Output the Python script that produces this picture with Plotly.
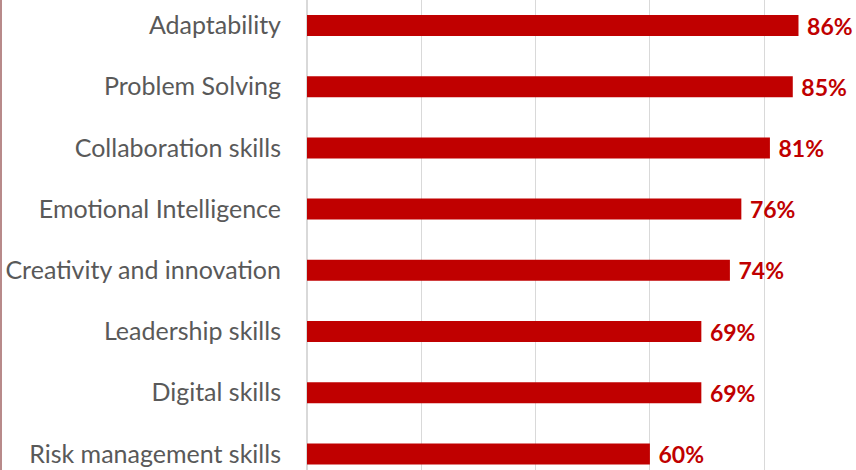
import plotly.graph_objects as go

categories = ["Adaptability", "Problem Solving", "Collaboration skills", "Emotional Intelligence",
              "Creativity and innovation", "Leadership skills", "Digital skills", "Risk management skills"]
values = [86, 85, 81, 76, 74, 69, 69, 60]
labels = [f"{v}%" for v in values]

W, H = 856, 470
L = 307
plot_w = W - L
px_per_unit = 114.3 / 20
x_max = plot_w / px_per_unit

band = 61.2
first_center = 25.5
y_top = -first_center / band
y_bot = (H - first_center) / band

fig = go.Figure(go.Bar(
    x=values, y=categories, orientation="h",
    marker=dict(color="#C00000", line=dict(width=0)),
    width=21 / band,
    text=[" " + t for t in labels], textposition="outside", cliponaxis=False,
    constraintext="none",
    textfont=dict(family="Lato", size=23, color="#C00000", weight="bold"),
    hoverinfo="skip",
))

fig.update_layout(
    width=W, height=H,
    margin=dict(l=L, r=0, t=0, b=0, autoexpand=False),
    paper_bgcolor="white", plot_bgcolor="white",
    showlegend=False,
    font=dict(family="Lato"),
    xaxis=dict(range=[0, x_max], dtick=20, showgrid=True, gridcolor="#D9D9D9", gridwidth=1,
               showticklabels=False, zeroline=True, zerolinecolor="#D9D9D9", zerolinewidth=2,
               showline=False, fixedrange=True),
    yaxis=dict(type="category", categoryorder="array", categoryarray=categories,
               range=[y_bot, y_top], showgrid=False, ticks="", ticklabelstandoff=25,
               tickfont=dict(family="Lato", size=25, color="#595959"), showline=False,
               fixedrange=True),
    shapes=[dict(type="line", xref="paper", yref="paper",
                 x0=(1 - L) / plot_w, x1=(1 - L) / plot_w, y0=0, y1=1,
                 line=dict(color="#B88A8A", width=2))],
)

fig.write_html("out.html", config={"displayModeBar": False, "staticPlot": True},
               post_script="document.body.style.margin='0';document.body.style.overflow='hidden';")
